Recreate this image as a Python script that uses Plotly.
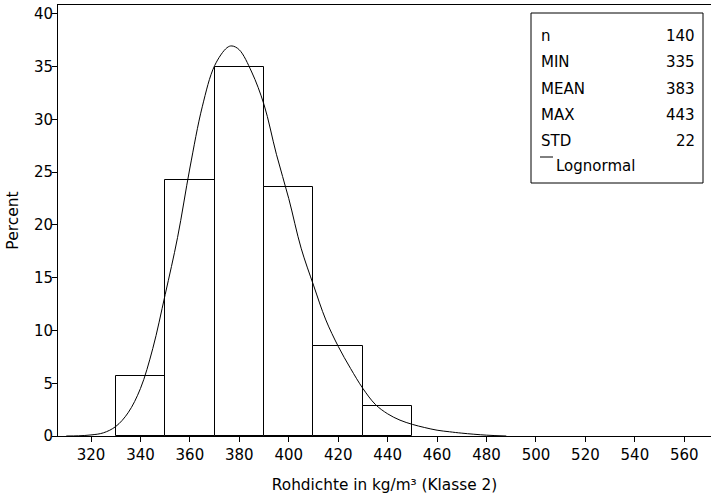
import plotly.graph_objects as go

# Histogram bins (left edges, width 20) and percentages
bin_left = [330, 350, 370, 390, 410, 430]
bin_width = 20
percent = [5.71, 24.29, 35.0, 23.57, 8.57, 2.86]

# Fitted lognormal curve
curve_x = [310, 315, 320, 325, 330, 335, 340, 345, 350, 355, 360, 365, 370, 375, 377,
           380, 385, 390, 395, 400, 405, 410, 415, 420, 425, 430, 435, 440, 445, 450,
           455, 460, 465, 470, 480, 488]
curve_y = [0.0, 0.02, 0.1, 0.3, 0.9, 2.2, 4.5, 8.3, 13.4, 18.8, 25.4, 31.2, 35.1, 36.8, 36.97,
           36.6, 34.5, 31.4, 26.7, 22.5, 17.8, 14.3, 11.0, 8.5, 6.4, 4.5, 3.0, 2.1, 1.5, 1.1,
           0.8, 0.55, 0.4, 0.27, 0.08, 0.0]

stat_labels = ["n", "MIN", "MEAN", "MAX", "STD"]
stat_values = ["140", "335", "383", "443", "22"]
curve_name = "Lognormal"

x_ticks = list(range(320, 561, 20))
y_ticks = list(range(0, 41, 5))

FONT = "DejaVu Sans"
FS = 15

fig = go.Figure()
fig.add_trace(go.Bar(
    x=[b + bin_width / 2 for b in bin_left], y=percent, width=bin_width,
    marker=dict(color="white", line=dict(color="black", width=1)),
    showlegend=False, hoverinfo="x+y"))
fig.add_trace(go.Scatter(
    x=curve_x, y=curve_y, mode="lines", line=dict(color="black", width=1, shape="spline"),
    showlegend=False))

fig.update_layout(
    width=711, height=497, autosize=False,
    margin=dict(l=58, r=0, t=5, b=61),
    paper_bgcolor="white", plot_bgcolor="white",
    font=dict(family=FONT, size=FS, color="black"),
    bargap=0,
    xaxis=dict(range=[306.65, 570.8], tickvals=x_ticks, ticks="outside", ticklen=5,
               tickcolor="black", showline=True, linecolor="black", linewidth=1,
               mirror=True, showgrid=False, zeroline=False, automargin=False,
               tickfont=dict(size=FS),
               title=dict(text="Rohdichte in kg/m³ (Klasse 2)", standoff=16,
                          font=dict(size=15.3))),
    yaxis=dict(range=[0, 40.85], tickvals=y_ticks, ticks="outside", ticklen=5,
               tickcolor="black", showline=True, linecolor="black", linewidth=1,
               showgrid=False, zeroline=False, automargin=False,
               tickfont=dict(size=FS), ticklabelstandoff=-4,
               title=dict(text="Percent", standoff=11, font=dict(size=15.5))),
)

# Inset statistics box (paper coords)
pl, pr, pt, pb = 58, 711, 5, 436
def px(xp):
    return (xp - pl) / (pr - pl)
def py(yp):
    return (pb - yp) / (pb - pt)

fig.add_shape(type="rect", xref="paper", yref="paper",
              x0=px(531), x1=px(703), y0=py(183), y1=py(13),
              line=dict(color="black", width=1), fillcolor="white", layer="above")
row_y = [36, 62, 89, 115, 141]
for lab, val, ry in zip(stat_labels, stat_values, row_y):
    fig.add_annotation(xref="paper", yref="paper", x=px(539), y=py(ry), text=lab,
                       showarrow=False, xanchor="left", yanchor="middle",
                       font=dict(size=FS))
    fig.add_annotation(xref="paper", yref="paper", x=px(697), y=py(ry), text=val,
                       showarrow=False, xanchor="right", yanchor="middle",
                       font=dict(size=FS))
fig.add_shape(type="line", xref="paper", yref="paper",
              x0=px(540), x1=px(553), y0=py(157), y1=py(157),
              line=dict(color="black", width=1))
fig.add_annotation(xref="paper", yref="paper", x=px(554), y=py(166), text=curve_name,
                   showarrow=False, xanchor="left", yanchor="middle",
                   font=dict(size=FS))

fig.write_html("out.html", config={"responsive": False, "displayModeBar": False},
               post_script="document.body.style.margin='0';document.body.style.overflow='hidden';")
